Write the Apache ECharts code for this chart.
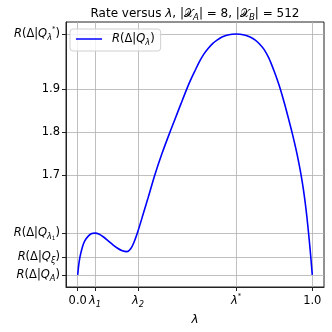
<!DOCTYPE html>
<html><head><meta charset="utf-8">
<script src="https://cdn.jsdelivr.net/npm/echarts@6/dist/echarts.min.js"></script>
<style>html,body{margin:0;padding:0;background:#fff}#c{width:332px;height:332px}</style>
</head><body><div id="c"></div>
<script>
// ---- data ----
const lambdaValues = [0.000,0.002,0.005,0.010,0.020,0.030,0.045,0.060,0.074,0.090,0.110,0.130,0.150,0.170,0.190,0.210,0.225,0.240,0.257,0.280,0.300,0.328,0.360,0.395,0.415,0.440,0.463,0.480,0.501,0.520,0.537,0.555,0.575,0.594,0.615,0.640,0.675,0.710,0.735,0.757,0.775,0.795,0.815,0.836,0.850,0.864,0.883,0.900,0.915,0.930,0.942,0.952,0.962,0.970,0.977,0.984,0.990,0.995,1.000];
const rateValues   = [1.469,1.481,1.495,1.512,1.534,1.548,1.559,1.565,1.566,1.564,1.557,1.548,1.539,1.531,1.525,1.523,1.529,1.545,1.571,1.612,1.648,1.700,1.752,1.803,1.831,1.866,1.898,1.920,1.944,1.965,1.981,1.994,2.006,2.014,2.021,2.026,2.028,2.026,2.021,2.014,2.005,1.992,1.972,1.944,1.923,1.900,1.864,1.829,1.797,1.762,1.731,1.702,1.668,1.636,1.604,1.567,1.533,1.502,1.469];
const xTickValues = [0.0, 0.074, 0.257, 0.675, 1.0];
const xTickLabels = ['{n|0.0}', '{i|λ}{s|1}', '{i|λ}{s|2}', '{i|λ}{sp|*}', '{n|1.0}'];
const yTickValues = [1.469, 1.511, 1.566, 1.7, 1.8, 1.9, 2.028];
const yTickLabels = [
  '{i|R}{n|(Δ|}{i|Q}{s|A}{n|)}',
  '{i|R}{n|(Δ|}{i|Q}{s|ξ}{n|)}',
  '{i|R}{n|(Δ|}{i|Q}{s|λ}{ss|1}{n|)}',
  '{n|1.7}', '{n|1.8}', '{n|1.9}',
  '{i|R}{n|(Δ|}{i|Q}{s|λ}{sp|*}{n|)}'
];
const seriesName = 'R(Δ|Qλ)';
const legendLabel = '{i|R}{n|(Δ|}{i|Q}{s|λ}{n|)}';
const titleText = '{n|Rate versus }{i|λ}{n|, |}{c|𝒳}{s|A}{n|| = 8, |}{c|𝒳}{s|B}{n|| = 512}';

// ---- styles ----
const F = 'DejaVu Sans';
const FS = 11.5;
function richSet(size) {
  const base = {fontFamily: F, fontWeight: 'normal', color: '#000'};
  return {
    n: Object.assign({}, base, {fontSize: size, lineHeight: 16}),
    i: Object.assign({}, base, {fontSize: size, fontStyle: 'italic', lineHeight: 16}),
    c: Object.assign({}, base, {fontSize: size * 0.9, lineHeight: 16}),
    s: Object.assign({}, base, {fontSize: size * 0.72, fontStyle: 'italic', lineHeight: 8, verticalAlign: 'bottom'}),
    ss: Object.assign({}, base, {fontSize: size * 0.5, lineHeight: 5, verticalAlign: 'bottom'}),
    sp: Object.assign({}, base, {fontSize: size * 0.6, lineHeight: 9, verticalAlign: 'top'})
  };
}
function nearestIdx(arr, v) {
  let b = 0;
  for (let k = 1; k < arr.length; k++) if (Math.abs(arr[k] - v) < Math.abs(arr[b] - v)) b = k;
  return b;
}
const gridLine = {show: true, lineStyle: {color: '#b0b0b0', width: 0.8}};

const chart = echarts.init(document.getElementById('c'), null, {renderer: 'canvas'});
chart.setOption({
  animation: false,
  backgroundColor: '#fff',
  title: {
    text: titleText, left: 195, top: 4, textAlign: 'center', padding: [2, 0, 2, 0],
    textStyle: {fontWeight: 'normal', rich: richSet(12)}
  },
  legend: {
    left: 70, top: 29, padding: [4, 6, 4, 6],
    backgroundColor: 'rgba(255,255,255,0.8)', borderColor: '#d0d0d0', borderWidth: 1, borderRadius: 3,
    itemWidth: 26, itemHeight: 10,
    data: [{name: seriesName, icon: 'path://M0,5 L26,5 L26,6.5 L0,6.5 Z'}],
    formatter: () => legendLabel,
    textStyle: {padding: [0, 0, 0, 5], rich: richSet(FS)}
  },
  grid: {left: 66, right: 8, top: 22, bottom: 45, show: true, borderColor: '#222', borderWidth: 1, backgroundColor: 'transparent'},
  xAxis: {
    type: 'value', min: -0.05, max: 1.05,
    name: 'λ', nameLocation: 'middle', nameGap: 11,
    nameTextStyle: {fontFamily: F, fontStyle: 'italic', fontSize: 12, color: '#000'},
    axisLine: {show: true, onZero: false, lineStyle: {color: '#222', width: 1}},
    axisTick: {show: true, inside: false, length: 4, customValues: xTickValues, lineStyle: {color: '#222'}},
    axisLabel: {
      show: true, margin: 6, customValues: xTickValues, hideOverlap: false,
      formatter: v => xTickLabels[nearestIdx(xTickValues, v)],
      rich: richSet(FS)
    },
    splitLine: gridLine
  },
  yAxis: {
    type: 'value', min: 1.441, max: 2.056,
    axisLine: {show: true, onZero: false, lineStyle: {color: '#222', width: 1}},
    axisTick: {show: true, inside: false, length: 4, customValues: yTickValues, lineStyle: {color: '#222'}},
    axisLabel: {
      show: true, margin: 6, customValues: yTickValues, hideOverlap: false,
      formatter: v => yTickLabels[nearestIdx(yTickValues, v)],
      rich: richSet(FS)
    },
    splitLine: gridLine
  },
  series: [{
    name: seriesName, type: 'line', smooth: 0.3, symbol: 'none',
    lineStyle: {color: '#0000ff', width: 1.6}, itemStyle: {color: '#0000ff'},
    data: lambdaValues.map((x, k) => [x, rateValues[k]]),
    z: 3
  }]
});
</script>
</body></html>
